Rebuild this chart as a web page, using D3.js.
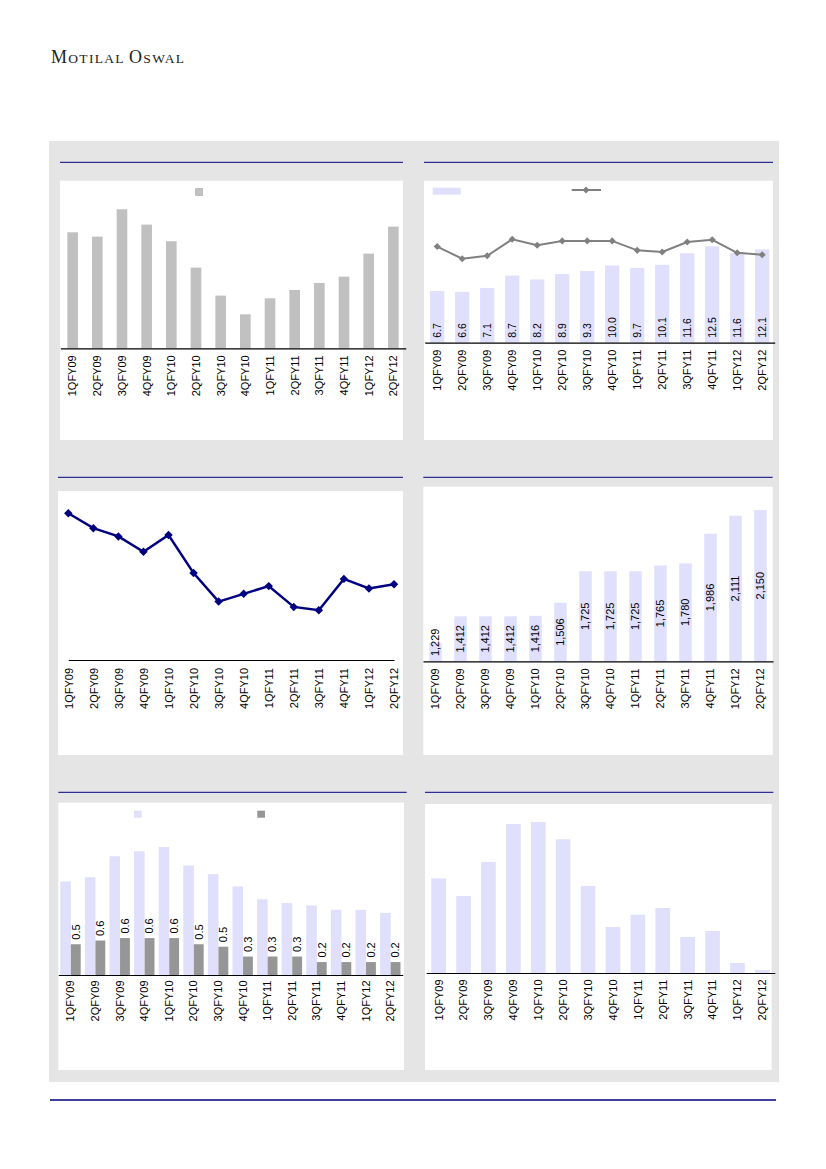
<!DOCTYPE html>
<html>
<head>
<meta charset="utf-8">
<script src="https://cdn.jsdelivr.net/npm/d3@7"></script>
<style>
  body { margin: 0; background: #fff; }
</style>
</head>
<body>
<div id="paper"></div>
<script>
// quarters shared by all six charts
var quarters = ['1QFY09', '2QFY09', '3QFY09', '4QFY09', '1QFY10', '2QFY10', '3QFY10',
  '4QFY10', '1QFY11', '2QFY11', '3QFY11', '4QFY11', '1QFY12', '2QFY12']

// top left: grey bars (no labels shown)
var revenue = [34.8, 33.5, 41.7, 37.1, 32.1, 24.2, 15.8, 10.2, 15.0, 17.5, 19.6, 21.5, 28.4, 36.5]

// top right: bars with labels + grey line on its own axis
var sales = [6.7, 6.6, 7.1, 8.7, 8.2, 8.9, 9.3, 10.0, 9.7, 10.1, 11.6, 12.5, 11.6, 12.1]
var margin = [35.6, 31.1, 32.2, 38.3, 36.1, 37.7, 37.7, 37.7, 34.2, 33.6, 37.3, 38.1, 33.3, 32.6]

// middle left: navy line
var yieldLine = [30.4, 27.3, 25.6, 22.4, 25.9, 18.0, 12.1, 13.7, 15.3, 11.0, 10.3, 16.8, 14.8, 15.7]

// middle right: bars with labels, axis starts at 1,100
var capacity = [1229, 1412, 1412, 1412, 1416, 1506, 1725, 1725, 1725, 1765, 1780, 1986, 2111, 2150]

// bottom left: two series, only the dark one labelled
var grossNpa = [1.52, 1.59, 1.93, 2.01, 2.08, 1.78, 1.64, 1.44, 1.23, 1.17, 1.13, 1.06, 1.06, 1.01]
var netNpa = [0.50, 0.56, 0.60, 0.60, 0.60, 0.50, 0.46, 0.30, 0.30, 0.30, 0.21, 0.21, 0.21, 0.21]

// bottom right: plain bars
var growth = [95.2, 77.5, 111.7, 149.9, 151.9, 134.5, 87.5, 46.3, 58.6, 65.4, 36.2, 42.2, 10.1, 3.0]

var navy = '#000080'
var lavender = '#e0e0fd'
var font = 'Liberation Sans, Arial, sans-serif'

var canvas = d3.select('#paper')
  .append('svg')
  .attr('width', 826)
  .attr('height', 1169)

// masthead, small caps done by hand (big initials, smaller capitals)
var head = canvas.append('text')
  .attr('x', 51)
  .attr('y', 63.3)
  .attr('textLength', 133)
  .attr('lengthAdjust', 'spacing')
  .style('font-family', 'Liberation Serif, serif')
  .style('fill', '#222')
head.append('tspan').style('font-size', '18px').text('M')
head.append('tspan').style('font-size', '13.5px').text('OTILAL ')
head.append('tspan').style('font-size', '18px').text('O')
head.append('tspan').style('font-size', '13.5px').text('SWAL')

// grey backdrop behind the panels
canvas.append('rect')
  .attr('x', 49).attr('y', 141)
  .attr('width', 730).attr('height', 941)
  .style('fill', '#e5e5e5')

// footer rule
canvas.append('line')
  .attr('x1', 50).attr('x2', 776)
  .attr('y1', 1100).attr('y2', 1100)
  .style('stroke', navy).style('stroke-width', 1.5)

// white chart box + navy title rule
function panel(x0, x1, ruleY, top, bottom, ruleX1) {
  canvas.append('line')
    .attr('x1', x0).attr('x2', ruleX1 || x1)
    .attr('y1', ruleY).attr('y2', ruleY)
    .style('stroke', navy).style('stroke-width', 1)
  canvas.append('rect')
    .attr('x', x0).attr('y', top)
    .attr('width', x1 - x0).attr('height', bottom - top)
    .style('fill', '#fff')
}

// category axis with rotated labels
function catAxis(x, y, gap) {
  var g = canvas.append('g')
    .attr('transform', 'translate(0,' + y + ')')
    .call(d3.axisBottom(x).tickSize(0).tickSizeOuter(0))
  g.select('.domain').style('stroke', '#000').style('stroke-width', 1.2)
  g.selectAll('text')
    .attr('transform', 'rotate(-90)')
    .attr('text-anchor', 'end')
    .attr('x', -gap)
    .attr('y', 0)
    .attr('dy', '0.35em')
    .style('font-family', font)
    .style('font-size', '11px')
    .style('fill', '#000')
  return g
}

function bars(x, y, data, frac, color, offset) {
  var w = x.bandwidth() * frac
  canvas.append('g')
    .selectAll('rect')
    .data(data)
    .join('rect')
    .attr('x', function(d, i) { return x(quarters[i]) + x.bandwidth() / 2 + (offset === undefined ? -w / 2 : offset * x.bandwidth()) })
    .attr('y', function(d) { return y(d) })
    .attr('width', w)
    .attr('height', function(d) { return y.range()[0] - y(d) })
    .style('fill', color)
}

function diamonds(x, y, data, side, color) {
  canvas.append('g')
    .selectAll('path')
    .data(data)
    .join('path')
    .attr('d', d3.symbol(d3.symbolSquare, side * side))
    .attr('transform', function(d, i) {
      var cx = x(quarters[i]) + (x.bandwidth ? x.bandwidth() / 2 : 0)
      return 'translate(' + cx + ',' + y(d) + ') rotate(45)'
    })
    .style('fill', color)
}

// ---- panel 1 ----
panel(60, 403, 162.3, 180.7, 440)
var x1 = d3.scaleBand().domain(quarters).range([60.3, 405.7])
var y1 = d3.scaleLinear().domain([0, 50]).range([348.3, 181.6])
bars(x1, y1, revenue, 0.43, '#c0c0c0')
canvas.append('rect').attr('x', 195).attr('y', 188).attr('width', 8).attr('height', 8).style('fill', '#c0c0c0')
catAxis(x1, 348.3, 7)

// ---- panel 2 ----
panel(424, 773, 162.3, 180.7, 440)
var x2 = d3.scaleBand().domain(quarters).range([424.7, 774.7])
var y2 = d3.scaleLinear().domain([0, 21]).range([342.7, 180.7])
var y2b = d3.scaleLinear().domain([0, 60]).range([342.7, 180.7])
bars(x2, y2, sales, 0.57, lavender)
canvas.append('g')
  .selectAll('text')
  .data(sales)
  .join('text')
  .attr('transform', function(d, i) {
    return 'translate(' + (x2(quarters[i]) + x2.bandwidth() / 2) + ',' + (342.7 - 5) + ') rotate(-90)'
  })
  .attr('dy', '0.35em')
  .style('font-family', font)
  .style('font-size', '10.5px')
  .text(function(d) { return d3.format('.1f')(d) })
canvas.append('path')
  .datum(margin)
  .attr('d', d3.line()
    .x(function(d, i) { return x2(quarters[i]) + x2.bandwidth() / 2 })
    .y(function(d) { return y2b(d) }))
  .style('fill', 'none')
  .style('stroke', '#808080')
  .style('stroke-width', 2)
diamonds(x2, y2b, margin, 5, '#808080')
canvas.append('rect').attr('x', 432.7).attr('y', 187.7).attr('width', 28).attr('height', 7).style('fill', lavender)
canvas.append('line').attr('x1', 571.7).attr('x2', 601).attr('y1', 190).attr('y2', 190)
  .style('stroke', '#808080').style('stroke-width', 2)
canvas.append('path').attr('d', d3.symbol(d3.symbolSquare, 25))
  .attr('transform', 'translate(586,190) rotate(45)').style('fill', '#808080')
catAxis(x2, 342.7, 7)

// ---- panel 3 ----
panel(58, 403, 477.3, 491, 755)
var x3 = d3.scalePoint().domain(quarters).range([68.3, 394])
var y3 = d3.scaleLinear().domain([0, 35]).range([660, 491])
canvas.append('path')
  .datum(yieldLine)
  .attr('d', d3.line()
    .x(function(d, i) { return x3(quarters[i]) })
    .y(function(d) { return y3(d) }))
  .style('fill', 'none')
  .style('stroke', navy)
  .style('stroke-width', 2.5)
diamonds(x3, y3, yieldLine, 6, navy)
catAxis(x3, 660, 8)

// ---- panel 4 ----
panel(423.3, 772.7, 477.3, 486.7, 755)
var x4 = d3.scaleBand().domain(quarters).range([423, 773])
var y4 = d3.scaleLinear().domain([1100, 2300]).range([661.3, 488.5])
bars(x4, y4, capacity, 0.5, lavender)
canvas.append('g')
  .selectAll('text')
  .data(capacity)
  .join('text')
  .attr('transform', function(d, i) {
    var mid = (y4(d) + 661.3) / 2
    var cy = Math.min(mid, 661.3 - 5 - 14)
    return 'translate(' + (x4(quarters[i]) + x4.bandwidth() / 2) + ',' + cy + ') rotate(-90)'
  })
  .attr('text-anchor', 'middle')
  .attr('dy', '0.35em')
  .style('font-family', font)
  .style('font-size', '11px')
  .text(function(d) { return d3.format(',')(d) })
catAxis(x4, 661.3, 7)

// ---- panel 5 ----
panel(58.3, 404, 792.3, 802.7, 1070, 406.7)
var x5 = d3.scaleBand().domain(quarters).range([58.3, 402.7])
var y5 = d3.scaleLinear().domain([0, 2.8]).range([975, 802.7])
bars(x5, y5, grossNpa, 0.43, lavender, -0.42)
bars(x5, y5, netNpa, 0.4, '#969696', 0.01)
canvas.append('g')
  .selectAll('text')
  .data(netNpa)
  .join('text')
  .attr('transform', function(d, i) {
    var cx = x5(quarters[i]) + x5.bandwidth() / 2 + 0.21 * x5.bandwidth()
    return 'translate(' + cx + ',' + (y5(d) - 4.5) + ') rotate(-90)'
  })
  .attr('dy', '0.35em')
  .style('font-family', font)
  .style('font-size', '11px')
  .text(function(d) { return d3.format('.1f')(d) })
canvas.append('rect').attr('x', 134).attr('y', 810.7).attr('width', 7.7).attr('height', 7).style('fill', lavender)
canvas.append('rect').attr('x', 257.3).attr('y', 810.7).attr('width', 7.7).attr('height', 7).style('fill', '#969696')
catAxis(x5, 975, 5.5)

// ---- panel 6 ----
panel(425, 771.7, 792.3, 804, 1070, 773.3)
var x6 = d3.scaleBand().domain(quarters).range([426.2, 774.8])
var y6 = d3.scaleLinear().domain([0, 170]).range([973, 804])
bars(x6, y6, growth, 0.59, lavender)
catAxis(x6, 973, 6.5)
</script>
</body>
</html>
